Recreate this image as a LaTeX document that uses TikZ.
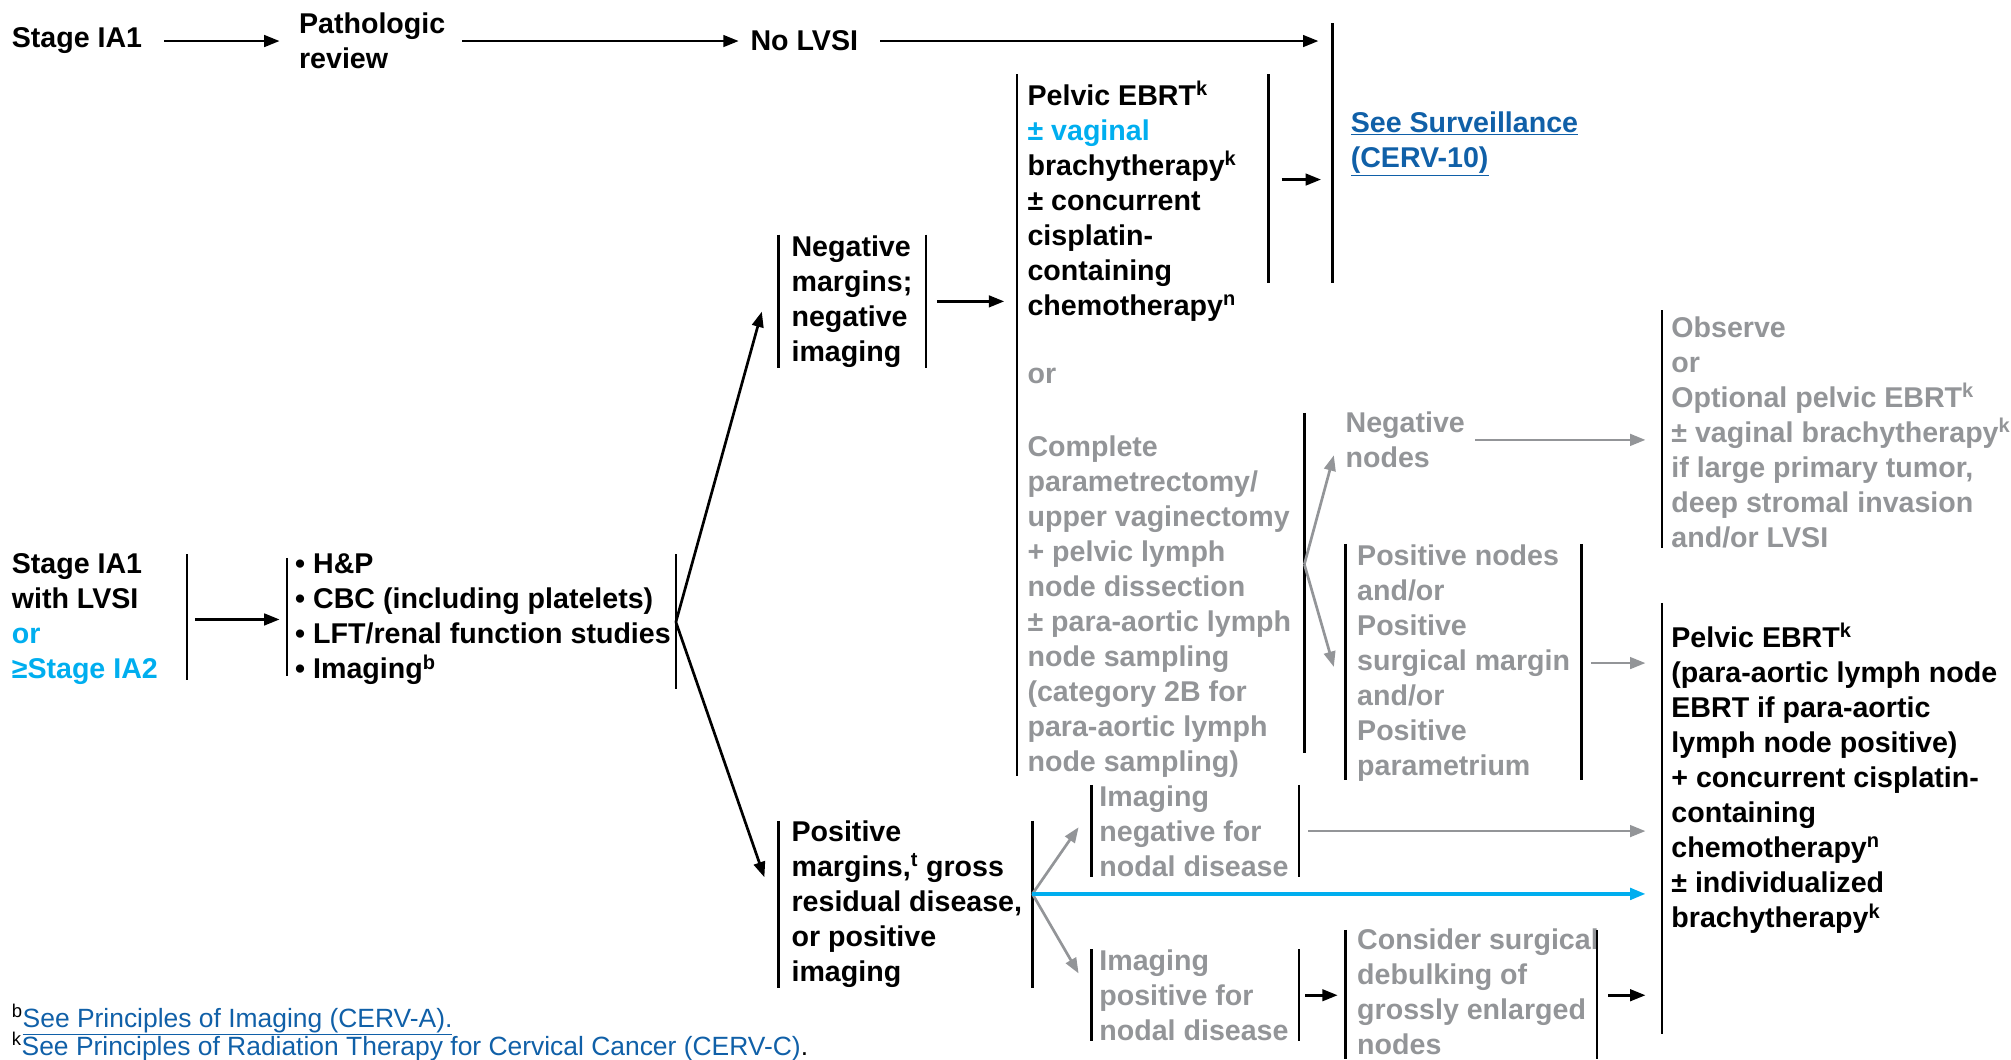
\documentclass[tikz,border=0pt]{standalone}
\usepackage{fontspec}
\setmainfont{Liberation Sans}
\usepackage{tikz}
\usetikzlibrary{arrows.meta}

\definecolor{nccncyan}{RGB}{0,174,239}
\definecolor{nccngray}{RGB}{147,149,152}
\definecolor{nccnlink}{RGB}{16,96,168}

\begin{document}
\begin{tikzpicture}[x=1pt, y=-1pt,
		txt/.style={anchor=west, align=left, inner sep=0pt, font=\fontsize{22.3}{27.3}\selectfont\bfseries},
		foot/.style={anchor=base west, inner sep=0pt, font=\fontsize{20.6}{24}\selectfont},
		bar/.style={line width=1.8pt},
		arr/.style={line width=2.1pt, -{Triangle[length=12pt, width=9pt]}}]

			\useasboundingbox (0,0) rectangle (1568,826);

			\node [txt] (ia1) at (9,32) {Stage IA1};
			\node [txt] (review) at (233,32) {Pathologic\\review};
			\node [txt] (nolvsi) at (585,32) {No LVSI};
			\node [txt, text=nccnlink] (surv) at (1053,112) {\underline{See Surveillance}\\\underline{(CERV-10)}};

			\node [txt] (ebrt) at (801,157) {Pelvic EBRT\textsuperscript{k}\\\textcolor{nccncyan}{± vaginal}\\brachytherapy\textsuperscript{k}\\± concurrent\\cisplatin-\\containing\\chemotherapy\textsuperscript{n}};
			\node [txt] (negmar) at (617,235) {Negative\\margins;\\negative\\imaging};
			\node [txt] (stage) at (9,483) {Stage IA1\\with LVSI\\\textcolor{nccncyan}{or}\\\textcolor{nccncyan}{≥Stage IA2}};
			\node [txt] (workup) at (230,483) {• H\&P\\• CBC (including platelets)\\• LFT/renal function studies\\• Imaging\textsuperscript{b}};
			\node [txt] (posmar) at (617,705) {Positive\\margins,\textsuperscript{t} gross\\residual disease,\\or positive\\imaging};
			\node [txt] (chemort) at (1303,607) {Pelvic EBRT\textsuperscript{k}\\(para-aortic lymph node\\EBRT if para-aortic\\lymph node positive)\\+ concurrent cisplatin-\\containing\\chemotherapy\textsuperscript{n}\\± individualized\\brachytherapy\textsuperscript{k}};

			\begin{scope}[nccngray]
				\node [txt] (orline) at (801,293) {or};
				\node [txt] (param) at (801,473) {Complete\\parametrectomy/\\upper vaginectomy\\+ pelvic lymph\\node dissection\\± para-aortic lymph\\node sampling\\(category 2B for\\para-aortic lymph\\node sampling)};
				\node [txt] (negnodes) at (1049,343) {Negative\\nodes};
				\node [txt] (posnodes) at (1058,517) {Positive nodes\\and/or\\Positive\\surgical margin\\and/or\\Positive\\parametrium};
				\node [txt] (observe) at (1303,337) {Observe\\or\\Optional pelvic EBRT\textsuperscript{k}\\± vaginal brachytherapy\textsuperscript{k}\\if large primary tumor,\\deep stromal invasion\\and/or LVSI};
				\node [txt] (imgneg) at (857,648) {Imaging\\negative for\\nodal disease};
				\node [txt] (imgpos) at (857,776) {Imaging\\positive for\\nodal disease};
				\node [txt] (debulk) at (1058,773) {Consider surgical\\debulking of\\grossly enlarged\\nodes};
			\end{scope}

			\node [foot] (footb) at (9,801) {\textsuperscript{b}\textcolor{nccnlink}{\underline{See Principles of Imaging (CERV-A).}}};
			\node [foot] (footk) at (9,823) {\textsuperscript{k}\textcolor{nccnlink}{\underline{See Principles of Radiation Therapy for Cervical Cancer (CERV-C)}}.};

			\begin{scope}[bar]
				\draw (1039,18) -- (1039,221);
				\draw (793,58) -- (793,605);
				\draw (989,58) -- (989,221);
				\draw (1017,322) -- (1017,587);
				\draw (607,183) -- (607,287);
				\draw (722,183) -- (722,287);
				\draw (146,432) -- (146,530);
				\draw (224,435) -- (224,527);
				\draw (527,432) -- (527,537);
				\draw (607,640) -- (607,770);
				\draw (805,640) -- (805,770);
				\draw (851,612) -- (851,684);
				\draw (1013,612) -- (1013,684);
				\draw (851,740) -- (851,812);
				\draw (1013,740) -- (1013,812);
				\draw (1049,725) -- (1049,826);
				\draw (1245,725) -- (1245,826);
				\draw (1049,424) -- (1049,608);
				\draw (1233,424) -- (1233,608);
				\draw (1296,242) -- (1296,427);
				\draw (1296,470) -- (1296,806);
			\end{scope}

			\coordinate (fork1) at (527,485);
			\coordinate (fork2) at (805,697);
			\coordinate (fork3) at (1017,440);

			\begin{scope}[arr]
				\draw ([xshift=17pt]ia1.east) -- ([xshift=-15pt]review.west);
				\draw ([xshift=13pt]review.east) -- ([xshift=-9pt]nolvsi.west);
				\draw ([xshift=17pt]nolvsi.east) -- ([xshift=-25pt,yshift=80pt]surv.west);
				\draw ([xshift=35pt,yshift=17pt]ebrt.east) -- ([xshift=-23pt,yshift=-28pt]surv.west);
				\draw ([xshift=19pt]negmar.east) -- ([xshift=-18pt,yshift=-78pt]ebrt.west);
				\draw ([xshift=29pt]stage.east) -- ([xshift=-12pt]workup.west);
				\draw (fork1) -- ([xshift=-23pt,yshift=-8pt]negmar.west);
				\draw (fork1) -- ([xshift=-21pt,yshift=21pt]posmar.west);
				\draw ([xshift=13pt]imgpos.east) -- ([xshift=-15pt,yshift=-3pt]debulk.west);
				\draw ([xshift=7pt,yshift=-3pt]debulk.east) -- ([xshift=-20pt,yshift=-169pt]chemort.west);
			\end{scope}

			\begin{scope}[arr, nccngray]
				\draw (fork3) -- ([xshift=-9pt,yshift=-12pt]negnodes.west);
				\draw (fork3) -- ([xshift=-18pt,yshift=-3pt]posnodes.west);
				\draw ([xshift=8pt]negnodes.east) -- ([xshift=-20pt,yshift=-6pt]observe.west);
				\draw ([xshift=16pt]posnodes.east) -- ([xshift=-20pt,yshift=90pt]chemort.west);
				\draw (fork2) -- ([xshift=-16pt,yshift=3pt]imgneg.west);
				\draw (fork2) -- ([xshift=-16pt,yshift=17pt]imgpos.west);
				\draw ([xshift=15pt]imgneg.east) -- ([xshift=-20pt,yshift=-41pt]chemort.west);
			\end{scope}

			\draw [arr, nccncyan, line width=2.6pt] (fork2) -- ([xshift=-20pt,yshift=-90pt]chemort.west);
		\end{tikzpicture}
\end{document}
